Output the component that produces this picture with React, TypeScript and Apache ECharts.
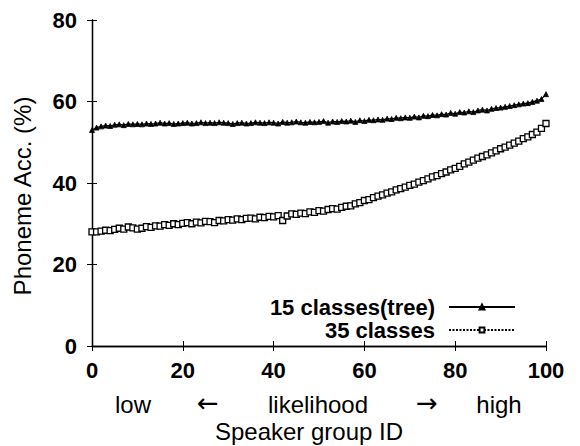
import React, { useEffect, useRef } from "react";
import * as echarts from "echarts";

const groupIds: number[] = Array.from({ length: 101 }, (_, i) => i);

const tree15: number[] = [
  53.0, 53.6, 53.9, 54.1, 54.0, 54.3, 54.4, 54.2, 54.5, 54.4,
  54.5, 54.4, 54.6, 54.5, 54.6, 54.8, 54.6, 54.7, 54.5, 54.6,
  54.7, 54.8, 54.6, 54.7, 54.9, 54.7, 54.8, 54.7, 54.9, 54.8,
  54.7, 54.5, 54.7, 54.8, 54.6, 54.7, 54.9, 54.8, 54.7, 54.9,
  54.8, 54.6, 55.0, 54.8, 54.9, 55.1, 54.9, 54.8, 55.0, 54.9,
  55.0, 55.2, 54.8, 55.1, 55.0, 55.2, 55.1, 55.3, 55.0, 55.4,
  55.2, 55.5, 55.4, 55.6, 55.5, 55.8, 55.7, 56.0, 55.9, 56.1,
  56.0, 56.3, 56.1, 56.5, 56.4, 56.7, 56.6, 56.9, 56.8, 57.2,
  57.0, 57.4, 57.3, 57.6, 57.4, 57.8, 58.0, 57.8, 58.2, 58.4,
  58.5, 58.7, 58.9, 59.1, 59.3, 59.5, 59.6, 59.9, 60.2, 60.6,
  61.8,
];

const classes35: number[] = [
  28.0, 28.0, 28.2, 28.4, 28.3, 28.6, 28.9, 28.7, 29.2, 29.0,
  28.7, 28.9, 29.3, 29.1, 29.5, 29.4, 29.8, 29.6, 30.0, 29.8,
  30.1, 30.3, 30.0, 30.4, 30.2, 30.6, 30.5, 30.3, 30.8, 30.7,
  31.0, 30.9, 31.2, 31.0, 31.3, 31.4, 31.2, 31.6, 31.5, 31.8,
  31.7, 32.0, 30.8, 31.9, 32.4, 32.3, 32.6, 32.5, 32.9, 32.8,
  33.2, 33.1, 33.5, 33.7, 33.6, 34.0, 34.3, 34.4, 34.9, 35.2,
  35.7, 35.9, 36.4, 36.8, 37.1, 37.5, 37.8, 38.3, 38.6, 39.0,
  39.4, 39.7, 40.2, 40.6, 41.0, 41.5, 41.8, 42.3, 42.7, 43.2,
  43.6, 44.1, 44.7, 45.1, 45.6, 46.1, 46.5, 46.9, 47.4, 47.9,
  48.4, 48.8, 49.3, 49.8, 50.3, 50.9, 51.3, 51.9, 52.5, 53.4,
  54.6,
];

const seriesNames: string[] = ["15 classes(tree)", "35 classes"];
const xTicks: number[] = [0, 20, 40, 60, 80, 100];
const yTicks: number[] = [0, 20, 40, 60, 80];
const directionWords: string[] = ["low", "\u2190", "likelihood", "\u2192", "high"];
const xAxisTitle = "Speaker group ID";
const yAxisTitle = "Phoneme Acc. (%)";

const FONT = "'Liberation Sans', Arial, Helvetica, sans-serif";
const ARROW_FONT = "'DejaVu Sans', sans-serif";

export default function App() {
  const ref = useRef<HTMLDivElement>(null);

  useEffect(() => {
    if (!ref.current) return;
    const chart = echarts.init(ref.current, undefined, { renderer: "svg" });

    const wordX = [133, 208, 318, 427, 499];

    const baseAxis = {
      axisLine: { show: true, lineStyle: { color: "#000", width: 1.3 } },
      axisTick: { show: true, inside: true, length: 5, lineStyle: { color: "#000", width: 1 } },
      splitLine: { show: false },
    };

    const legendText = {
      fontSize: 22,
      fontWeight: "bold",
      color: "#000",
      fontFamily: FONT,
      padding: [0, 9, 0, 0],
    };

    const textEl = (text: string, x: number, y: number, font: string) => ({
      type: "text",
      x,
      y,
      style: {
        text,
        font,
        fill: "#000",
        textAlign: "center",
        textVerticalAlign: "middle",
        align: "center",
        verticalAlign: "middle",
      },
    });

    const graphics: any[] = directionWords.map((w, i) => {
      const isArrow = i === 1 || i === 3;
      return textEl(
        w,
        wordX[i],
        isArrow ? 403 : 404,
        isArrow ? `26px ${ARROW_FONT}` : `24px ${FONT}`
      );
    });
    graphics.push(textEl(xAxisTitle, 309, 431, `24px ${FONT}`));

    chart.setOption({
      animation: false,
      backgroundColor: "#fff",
      textStyle: { fontFamily: FONT },
      grid: { left: 92, right: 34, top: 20, bottom: 100, containLabel: false },
      xAxis: [
        {
          type: "value",
          min: xTicks[0],
          max: xTicks[xTicks.length - 1],
          interval: 20,
          position: "bottom",
          ...baseAxis,
          axisLabel: {
            margin: 13,
            fontSize: 22,
            fontWeight: "bold",
            color: "#000",
            fontFamily: FONT,
          },
        },
        {
          type: "value",
          min: xTicks[0],
          max: xTicks[xTicks.length - 1],
          interval: 20,
          position: "top",
          ...baseAxis,
          axisLabel: { show: false },
        },
      ],
      yAxis: [
        {
          type: "value",
          min: yTicks[0],
          max: yTicks[yTicks.length - 1],
          interval: 20,
          position: "left",
          ...baseAxis,
          axisLabel: {
            margin: 15,
            fontSize: 22,
            fontWeight: "bold",
            color: "#000",
            fontFamily: FONT,
          },
          name: yAxisTitle,
          nameLocation: "middle",
          nameGap: 58,
          nameTextStyle: {
            fontSize: 24,
            color: "#000",
            fontFamily: FONT,
            padding: [0, 26, 0, 0],
          },
        },
        {
          type: "value",
          min: yTicks[0],
          max: yTicks[yTicks.length - 1],
          interval: 20,
          position: "right",
          ...baseAxis,
          axisLabel: { show: false },
        },
      ],
      legend: [
        {
          data: [seriesNames[0]],
          orient: "vertical",
          right: 59,
          top: 291,
          align: "right",
          itemWidth: 66,
          itemHeight: 6,
          textStyle: legendText,
        },
        {
          data: [seriesNames[1]],
          orient: "vertical",
          right: 59,
          top: 314,
          align: "right",
          itemWidth: 66,
          itemHeight: 6,
          textStyle: legendText,
        },
      ],
      graphic: graphics,
      series: [
        {
          name: seriesNames[0],
          type: "line",
          xAxisIndex: 0,
          yAxisIndex: 0,
          data: groupIds.map((x, i) => [x, tree15[i]]),
          symbol: "triangle",
          symbolSize: 5,
          showSymbol: true,
          lineStyle: { color: "#000", width: 1.2, type: "solid" },
          itemStyle: { color: "#000", borderColor: "#000", borderWidth: 0.8 },
          z: 3,
        },
        {
          name: seriesNames[1],
          type: "line",
          xAxisIndex: 0,
          yAxisIndex: 0,
          data: groupIds.map((x, i) => [x, classes35[i]]),
          symbol: "rect",
          symbolSize: 6,
          showSymbol: true,
          lineStyle: { color: "#000", width: 1, type: [2, 1.5] },
          itemStyle: { color: "#fff", borderColor: "#000", borderWidth: 1.3 },
          z: 2,
        },
      ],
    });

    return () => chart.dispose();
  }, []);

  return (
    <div
      ref={ref}
      style={{ position: "fixed", left: 0, top: 0, width: 580, height: 446, overflow: "hidden" }}
    />
  );
}
